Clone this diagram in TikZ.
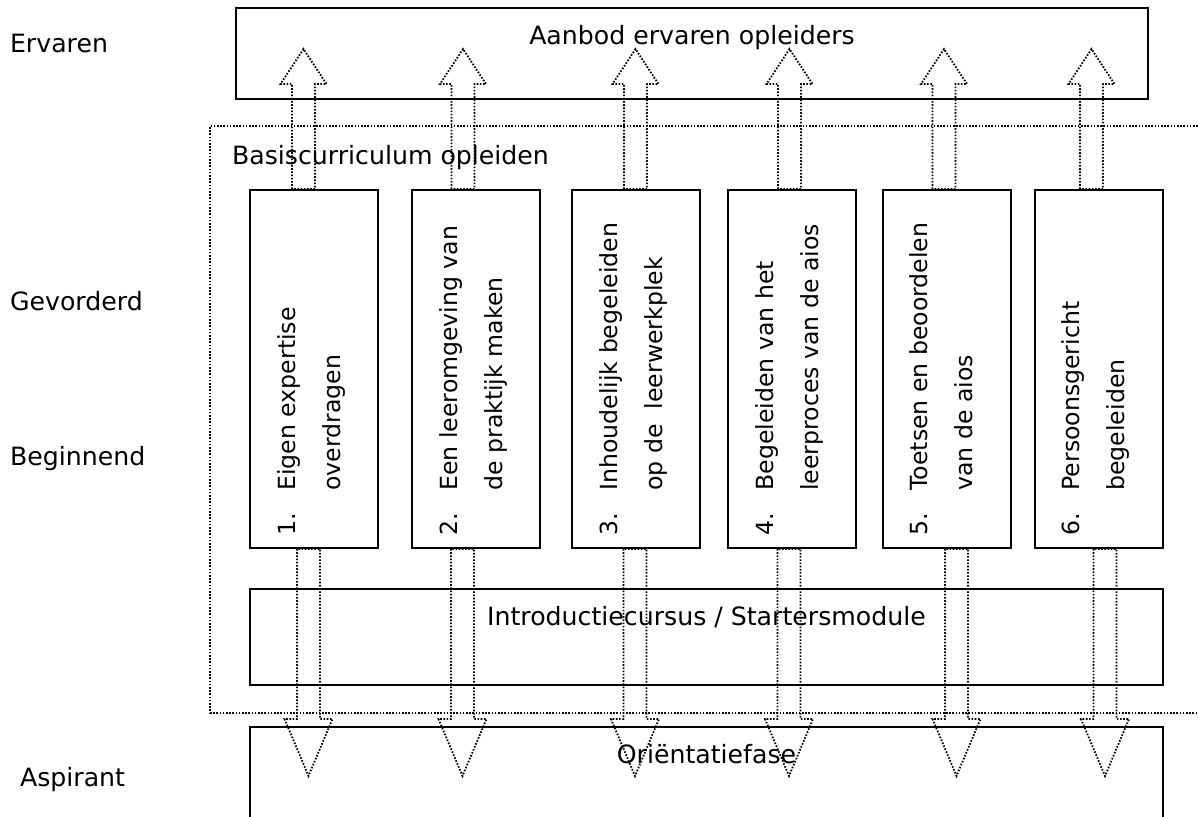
\documentclass[tikz,border=0pt]{standalone}
\usepackage{fontspec}
\setmainfont{DejaVu Sans}
\usepackage{tikz}
\usetikzlibrary{calc, positioning}
\tikzstyle{box}=[draw, line width=1pt, inner sep=0pt]
\tikzstyle{frm}=[draw, line width=0.9pt, dash pattern=on 0.8pt off 0.8pt, inner sep=0pt]
\tikzstyle{txt}=[inner sep=3.33pt, font=\fontsize{12.6}{15}\selectfont, text height=9.6pt, text depth=2.6pt]
\tikzstyle{vtxt}=[inner sep=0pt, rotate=90, anchor=north west, align=left, font=\fontsize{11.8}{22.5}\selectfont]
\tikzstyle{blk}=[line width=0.9pt, dash pattern=on 0.8pt off 0.8pt, line join=miter]
% hollow block arrows: #1 = x of the shaft, #2 = box it leaves
\newcommand{\arrup}[2]{\draw[blk] (#1-11.5,0 |- #2.north) -- (#1-11.5,84) -- (#1-23,84) -- (#1,49) -- (#1+23,84) -- (#1+11.5,84) -- (#1+11.5,0 |- #2.north) -- cycle;}
\newcommand{\arrdown}[2]{\draw[blk] (#1-11.5,0 |- #2.south) -- (#1-11.5,719) -- (#1-24,719) -- (#1,776) -- (#1+24,719) -- (#1+11.5,719) -- (#1+11.5,0 |- #2.south) -- cycle;}

\begin{document}
\begin{tikzpicture}[x=0.5pt, y=-0.5pt]
\useasboundingbox (0,0) rectangle (1198,816);
\clip (0,0) rectangle (1198,816);
% the levels
\node[txt, anchor=base west] (ervaren) at (3,52) {Ervaren};
\node[txt, anchor=base west] (gevorderd) at (3,310) {Gevorderd};
\node[txt, anchor=base west] (beginnend) at (3,465) {Beginnend};
\node[txt, anchor=base west] (aspirant) at (13,786) {Aspirant};
% the big boxes
\node[box, minimum width=456pt, minimum height=45.5pt] (aanbod) at (692,53.5) {};
\node[txt, below=5.5pt of aanbod.north] (aanbodtxt) {Aanbod ervaren opleiders};
\node[frm, minimum width=525pt, minimum height=293.5pt] (basis) at (735,419.5) {};
\node[txt, anchor=base west] (basistxt) at (225,164) {Basiscurriculum opleiden};
\node[box, minimum width=456.5pt, minimum height=48pt] (intro) at (706.5,637) {};
\node[txt, below=5.5pt of intro.north] (introtxt) {Introductiecursus / Startersmodule};
\node[box, minimum width=456.5pt, minimum height=100pt] (orient) at (706.5,827) {};
\node[txt, below=5.5pt of orient.north] (orienttxt) {Oriëntatiefase};
% the six roles
\node[box, minimum width=64pt, minimum height=179pt] (V1) at (314,369) {};
\node[box, minimum width=64pt, minimum height=179pt] (V2) at (476,369) {};
\node[box, minimum width=64pt, minimum height=179pt] (V3) at (636,369) {};
\node[box, minimum width=64pt, minimum height=179pt] (V4) at (792,369) {};
\node[box, minimum width=64pt, minimum height=179pt] (V5) at (946.5,369) {};
\node[box, minimum width=64pt, minimum height=179pt] (V6) at (1098.5,369) {};
\node[vtxt] (T1) at ($(V1.south west)+(28,-13)$) {\makebox[22.5pt][l]{1.}Eigen expertise\\\hspace*{22.5pt}overdragen};
\node[vtxt] (T2) at ($(V2.south west)+(28,-13)$) {\makebox[22.5pt][l]{2.}Een leeromgeving van\\\hspace*{22.5pt}de praktijk maken};
\node[vtxt] (T3) at ($(V3.south west)+(28,-13)$) {\makebox[22.5pt][l]{3.}Inhoudelijk begeleiden\\\hspace*{22.5pt}op de\ \ leerwerkplek};
\node[vtxt] (T4) at ($(V4.south west)+(28,-13)$) {\makebox[22.5pt][l]{4.}Begeleiden van het\\\hspace*{22.5pt}leerproces van de aios};
\node[vtxt] (T5) at ($(V5.south west)+(28,-13)$) {\makebox[22.5pt][l]{5.}Toetsen en beoordelen\\\hspace*{22.5pt}van de aios};
\node[vtxt] (T6) at ($(V6.south west)+(28,-13)$) {\makebox[22.5pt][l]{6.}Persoonsgericht\\\hspace*{22.5pt}begeleiden};
% the arrows up
\arrup{303.5}{V1}
\arrup{463}{V2}
\arrup{635.5}{V3}
\arrup{789.5}{V4}
\arrup{944}{V5}
\arrup{1091.5}{V6}
% the arrows down
\arrdown{308.5}{V1}
\arrdown{462.5}{V2}
\arrdown{635}{V3}
\arrdown{789}{V4}
\arrdown{956.5}{V5}
\arrdown{1105}{V6}
\end{tikzpicture}
\end{document}
